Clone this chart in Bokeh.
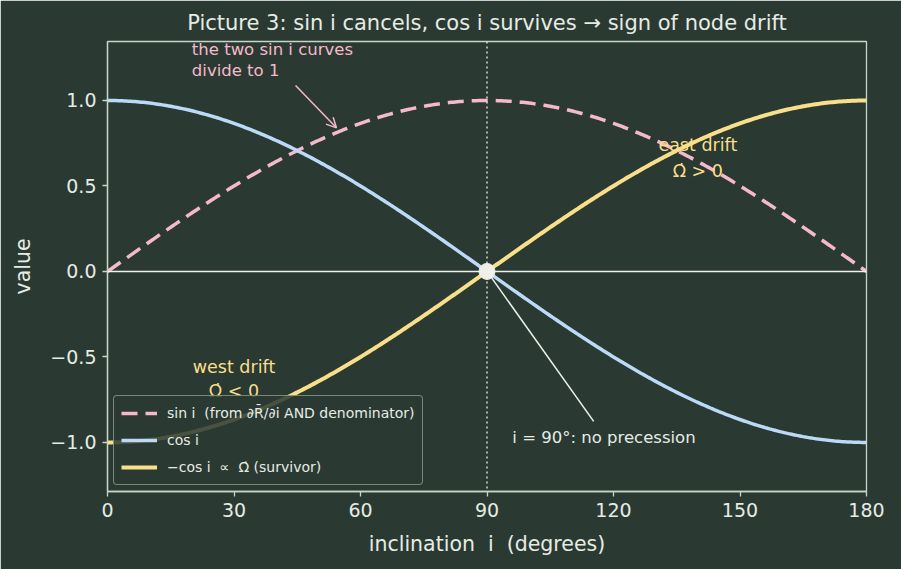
import numpy as np
from bokeh.plotting import figure
from bokeh.models import (Range1d, FixedTicker, Label, Arrow, OpenHead, NormalHead,
                          Span, Legend, LegendItem, Title)
from bokeh.embed import file_html
from bokeh.resources import INLINE

# ---- data -------------------------------------------------------------
inclination_deg = np.linspace(0.0, 180.0, 361)
sin_i = np.sin(np.radians(inclination_deg))
cos_i = np.cos(np.radians(inclination_deg))
neg_cos_i = -cos_i

node_point_x = [90.0]
node_point_y = [0.0]

x_ticks = [0, 30, 60, 90, 120, 150, 180]
y_ticks = [-1.0, -0.5, 0.0, 0.5, 1.0]
y_tick_labels = ["\u22121.0", "\u22120.5", "0.0", "0.5", "1.0"]

# ---- styling ----------------------------------------------------------
BG = "#2a3a33"
FG = "#e6ece4"
SPINE = "#c6d6c8"
PINK = "#f6b8cb"
BLUE = "#bcdaf8"
YELLOW = "#f9df8a"
FONT = "DejaVu Sans"

p = figure(width=901, height=569, output_backend="svg", toolbar_location=None,
           x_range=Range1d(0, 180), y_range=Range1d(-1.287, 1.345),
           min_border_left=107, min_border_right=35, min_border_top=41,
           min_border_bottom=78)
p.background_fill_color = BG
p.border_fill_color = BG
p.outline_line_color = SPINE
p.outline_line_width = 1.3
p.grid.visible = False

p.title = Title(text="Picture 3: sin i cancels, cos i survives \u2192 sign of node drift",
                align="center", text_font=FONT, text_font_size="21px",
                text_font_style="normal", text_color=FG, offset=0, standoff=13)

for ax in (p.xaxis[0], p.yaxis[0]):
    ax.axis_line_color = SPINE
    ax.axis_line_width = 1.3
    ax.major_tick_line_color = SPINE
    ax.major_tick_line_width = 1.3
    ax.major_tick_out = 5
    ax.major_tick_in = 0
    ax.minor_tick_line_color = None
    ax.major_label_text_color = FG
    ax.major_label_text_font = FONT
    ax.major_label_text_font_size = "19px"
    ax.axis_label_text_color = FG
    ax.axis_label_text_font = FONT
    ax.axis_label_text_font_size = "20.5px"
    ax.axis_label_text_font_style = "normal"

p.xaxis.ticker = FixedTicker(ticks=x_ticks)
p.yaxis.ticker = FixedTicker(ticks=y_ticks)
p.yaxis.major_label_overrides = {v: s for v, s in zip(y_ticks, y_tick_labels)}
p.xaxis.axis_label = "inclination\u00a0\u00a0i\u00a0\u00a0(degrees)"
p.yaxis.axis_label = "value"
p.xaxis.major_label_standoff = 6
p.yaxis.major_label_standoff = 6
p.xaxis.axis_label_standoff = 12
p.yaxis.axis_label_standoff = 12

# reference lines
p.add_layout(Span(location=0, dimension="width", line_color="#eef3ea", line_width=1.5))
p.add_layout(Span(location=90, dimension="height", line_color="#eef3ea",
                  line_width=1.3, line_dash="2 3"))

# curves
r_sin = p.line(inclination_deg, sin_i, line_color=PINK, line_width=3.5, line_dash="16 8")
r_cos = p.line(inclination_deg, cos_i, line_color=BLUE, line_width=3.5)
r_neg = p.line(inclination_deg, neg_cos_i, line_color=YELLOW, line_width=4)

p.scatter(node_point_x, node_point_y, size=16, fill_color="#eef0e8",
          line_color="#eef0e8")

# annotations
p.add_layout(Arrow(end=OpenHead(size=10, line_color=PINK, line_width=1.5),
                   x_start=44.6, y_start=1.088, x_end=54.3, y_end=0.84,
                   line_color=PINK, line_width=1.5))
p.add_layout(Label(x=20, y=1.298, text="the two sin i curves", text_color=PINK,
                   text_font=FONT, text_font_size="16.5px", text_baseline="middle"))
p.add_layout(Label(x=20, y=1.175, text="divide to 1", text_color=PINK,
                   text_font=FONT, text_font_size="16.5px", text_baseline="middle"))

p.add_layout(Label(x=140, y=0.737, text="east drift", text_color=YELLOW,
                   text_font=FONT, text_font_size="17.5px", text_align="center",
                   text_baseline="middle"))
p.add_layout(Label(x=140, y=0.59, text="\u03a9\u0307 > 0", text_color=YELLOW,
                   text_font=FONT, text_font_size="17.5px", text_align="center",
                   text_baseline="middle"))
p.add_layout(Label(x=30, y=-0.56, text="west drift", text_color=YELLOW,
                   text_font=FONT, text_font_size="17.5px", text_align="center",
                   text_baseline="middle"))
p.add_layout(Label(x=30, y=-0.70, text="\u03a9\u0307 < 0", text_color=YELLOW,
                   text_font=FONT, text_font_size="17.5px", text_align="center",
                   text_baseline="middle"))

p.add_layout(Arrow(end=NormalHead(size=0, line_color=None, fill_color=None),
                   x_start=115.3, y_start=-0.877, x_end=90.6, y_end=-0.02,
                   line_color="#eef3ea", line_width=1.5))
p.add_layout(Label(x=96, y=-0.97, text="i = 90\u00b0: no precession", text_color=FG,
                   text_font=FONT, text_font_size="16.5px", text_baseline="middle"))

legend = Legend(items=[
    LegendItem(label="sin i  (from \u2202R\u0304/\u2202i AND denominator)", renderers=[r_sin]),
    LegendItem(label="cos i", renderers=[r_cos]),
    LegendItem(label="\u2212cos i  \u221d  \u03a9\u0307 (survivor)", renderers=[r_neg]),
], location="bottom_left")
legend.background_fill_color = BG
legend.background_fill_alpha = 0.85
legend.border_line_color = SPINE
legend.border_line_width = 1.2
legend.border_radius = 4
legend.label_text_color = FG
legend.label_text_font = FONT
legend.label_text_font_size = "14px"
legend.glyph_width = 36
legend.glyph_height = 20
legend.label_standoff = 10
legend.spacing = 7
legend.padding = 7
legend.margin = 6
p.add_layout(legend)

open("out.html", "w").write(file_html(p, INLINE))
